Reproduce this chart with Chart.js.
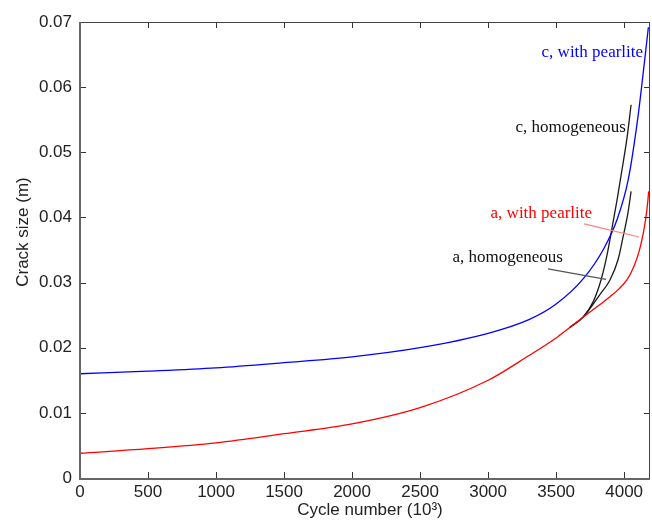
<!DOCTYPE html>
<html>
<head>
<meta charset="utf-8">
<script src="https://cdn.jsdelivr.net/npm/chart.js@4/dist/chart.umd.min.js"></script>
<style>
  html, body { margin: 0; padding: 0; background: #fff; }
  #wrap { width: 652px; height: 526px; }
</style>
</head>
<body>
<div id="wrap"><canvas id="c" width="652" height="526"></canvas></div>
<script>
// ---- data ----
const xTickValues = [0, 500, 1000, 1500, 2000, 2500, 3000, 3500, 4000];
const yTickValues = [0, 0.01, 0.02, 0.03, 0.04, 0.05, 0.06, 0.07];

const cPearliteX = [0, 500, 1000, 1500, 2000, 2500, 3000, 3300, 3500, 3700, 3850, 3950, 4030, 4100, 4150, 4178];
const cPearliteY = [0.0160, 0.0164, 0.0169, 0.0177, 0.0186, 0.0200, 0.0222, 0.0243, 0.0267, 0.0306, 0.0352, 0.0398, 0.0458, 0.0552, 0.0640, 0.0692];

const aPearliteX = [0, 500, 1000, 1500, 2000, 2500, 3000, 3300, 3500, 3600, 3700, 3820, 3900, 3960, 4020, 4070, 4110, 4140, 4160, 4174, 4180];
const aPearliteY = [0.0038, 0.0045, 0.0054, 0.0068, 0.0083, 0.0108, 0.0150, 0.0188, 0.0215, 0.0231, 0.0247, 0.0266, 0.0279, 0.0290, 0.0304, 0.0324, 0.0348, 0.0375, 0.0400, 0.0425, 0.0440];

const cHomogX = [3600, 3698, 3771, 3830, 3874, 3911, 3948, 3984, 4021, 4051];
const cHomogY = [0.0231, 0.0247, 0.0270, 0.0304, 0.0342, 0.0384, 0.0427, 0.0473, 0.0522, 0.0573];

const aHomogX = [3600, 3698, 3823, 3896, 3955, 3992, 4028, 4051];
const aHomogY = [0.0231, 0.0247, 0.0282, 0.0304, 0.0335, 0.0370, 0.0407, 0.0440];

const labels = [
  { text: 'c, with pearlite', x: 4139, y: 0.0646, color: '#0000ff' },
  { text: 'c, homogeneous',   x: 4013, y: 0.0531, color: '#111111' },
  { text: 'a, with pearlite', x: 3764, y: 0.0399, color: '#ff0000' },
  { text: 'a, homogeneous',   x: 3550, y: 0.0332, color: '#111111' }
];
const leaders = [
  { x1: 3705, y1: 0.0390, x2: 4109, y2: 0.0370, color: '#ff8080' },
  { x1: 3440, y1: 0.0321, x2: 3867, y2: 0.0305, color: '#555555' }
];

const xMin = 0, xMax = 4190, yMin = 0, yMax = 0.07;

function pts(xs, ys) { return xs.map((x, i) => ({ x: x, y: ys[i] })); }

const SANS = "'Liberation Sans', Arial, sans-serif";
const SERIF = "'Liberation Serif', 'Times New Roman', serif";

const framePlugin = {
  id: 'frame',
  afterDraw(chart) {
    const ctx = chart.ctx;
    const a = chart.chartArea;
    const xs = chart.scales.x, ys = chart.scales.y;
    ctx.save();
    // ticks inward
    ctx.strokeStyle = '#333';
    ctx.lineWidth = 1;
    ctx.beginPath();
    xTickValues.forEach(v => {
      const px = Math.round(xs.getPixelForValue(v)) + 0.5;
      ctx.moveTo(px, a.bottom); ctx.lineTo(px, a.bottom - 6);
      ctx.moveTo(px, a.top); ctx.lineTo(px, a.top + 6);
    });
    yTickValues.forEach(v => {
      const py = Math.round(ys.getPixelForValue(v)) + 0.5;
      ctx.moveTo(a.left, py); ctx.lineTo(a.left + 6, py);
      ctx.moveTo(a.right, py); ctx.lineTo(a.right - 6, py);
    });
    ctx.stroke();
    // frame
    ctx.strokeStyle = '#444';
    ctx.lineWidth = 1;
    ctx.strokeRect(a.left + 0.5, a.top + 0.5, a.right - a.left - 1, a.bottom - a.top);
    ctx.strokeStyle = '#666';
    ctx.lineWidth = 2;
    ctx.beginPath();
    ctx.moveTo(a.left, a.top); ctx.lineTo(a.left, a.bottom + 1);
    ctx.lineTo(a.right, a.bottom + 1);
    ctx.stroke();

    // leader lines
    leaders.forEach(l => {
      ctx.strokeStyle = l.color;
      ctx.lineWidth = 1.2;
      ctx.beginPath();
      ctx.moveTo(xs.getPixelForValue(l.x1), ys.getPixelForValue(l.y1));
      ctx.lineTo(xs.getPixelForValue(l.x2), ys.getPixelForValue(l.y2));
      ctx.stroke();
    });
    // annotation labels
    ctx.font = '17px ' + SERIF;
    ctx.textAlign = 'right';
    ctx.textBaseline = 'alphabetic';
    labels.forEach(t => {
      ctx.fillStyle = t.color;
      ctx.fillText(t.text, xs.getPixelForValue(t.x), ys.getPixelForValue(t.y));
    });

    // axis titles
    ctx.fillStyle = '#222';
    ctx.font = '17px ' + SANS;
    ctx.textAlign = 'center';
    ctx.textBaseline = 'middle';
    ctx.fillText('Cycle number (10\u00B3)', (a.left + a.right) / 2 + 5, 510);
    ctx.save();
    ctx.translate(23, 232);
    ctx.rotate(-Math.PI / 2);
    ctx.fillText('Crack size (m)', 0, 0);
    ctx.restore();
    ctx.restore();
  }
};

const lineDs = (label, data, color, width, order) => ({
  label: label,
  data: data,
  borderColor: color,
  backgroundColor: color,
  borderWidth: width,
  showLine: true,
  pointRadius: 0,
  fill: false,
  order: order,
  cubicInterpolationMode: 'monotone'
});

new Chart(document.getElementById('c'), {
  type: 'scatter',
  data: {
    datasets: [
      lineDs('c, with pearlite', pts(cPearliteX, cPearliteY), '#0000ff', 1.3, 0),
      lineDs('a, with pearlite', pts(aPearliteX, aPearliteY), '#ff0000', 1.3, 1),
      lineDs('c, homogeneous', pts(cHomogX, cHomogY), '#1a1a1a', 1.3, 2),
      lineDs('a, homogeneous', pts(aHomogX, aHomogY), '#1a1a1a', 1.3, 3)
    ]
  },
  options: {
    responsive: false,
    animation: false,
    devicePixelRatio: 1,
    layout: { padding: { left: 0, right: 2, top: 22, bottom: 0 } },
    plugins: { legend: { display: false }, tooltip: { enabled: false } },
    scales: {
      x: {
        type: 'linear',
        min: xMin, max: xMax,
        grid: { display: false, drawTicks: false },
        border: { display: false },
        ticks: {
          autoSkip: false,
          padding: 4,
          color: '#222',
          font: { family: SANS, size: 17 },
          maxRotation: 0,
          callback: v => String(v)
        },
        afterBuildTicks: s => { s.ticks = xTickValues.map(v => ({ value: v })); },
        afterFit: s => { s.height = 48; }
      },
      y: {
        type: 'linear',
        min: yMin, max: yMax,
        grid: { display: false, drawTicks: false },
        border: { display: false },
        ticks: {
          autoSkip: false,
          padding: 8,
          color: '#222',
          font: { family: SANS, size: 17 },
          callback: v => (Math.abs(v) < 1e-9 ? '0' : Number(v).toFixed(2))
        },
        afterBuildTicks: s => { s.ticks = yTickValues.map(v => ({ value: v })); },
        afterFit: s => { s.width = 80; }
      }
    }
  },
  plugins: [framePlugin]
});
</script>
</body>
</html>
